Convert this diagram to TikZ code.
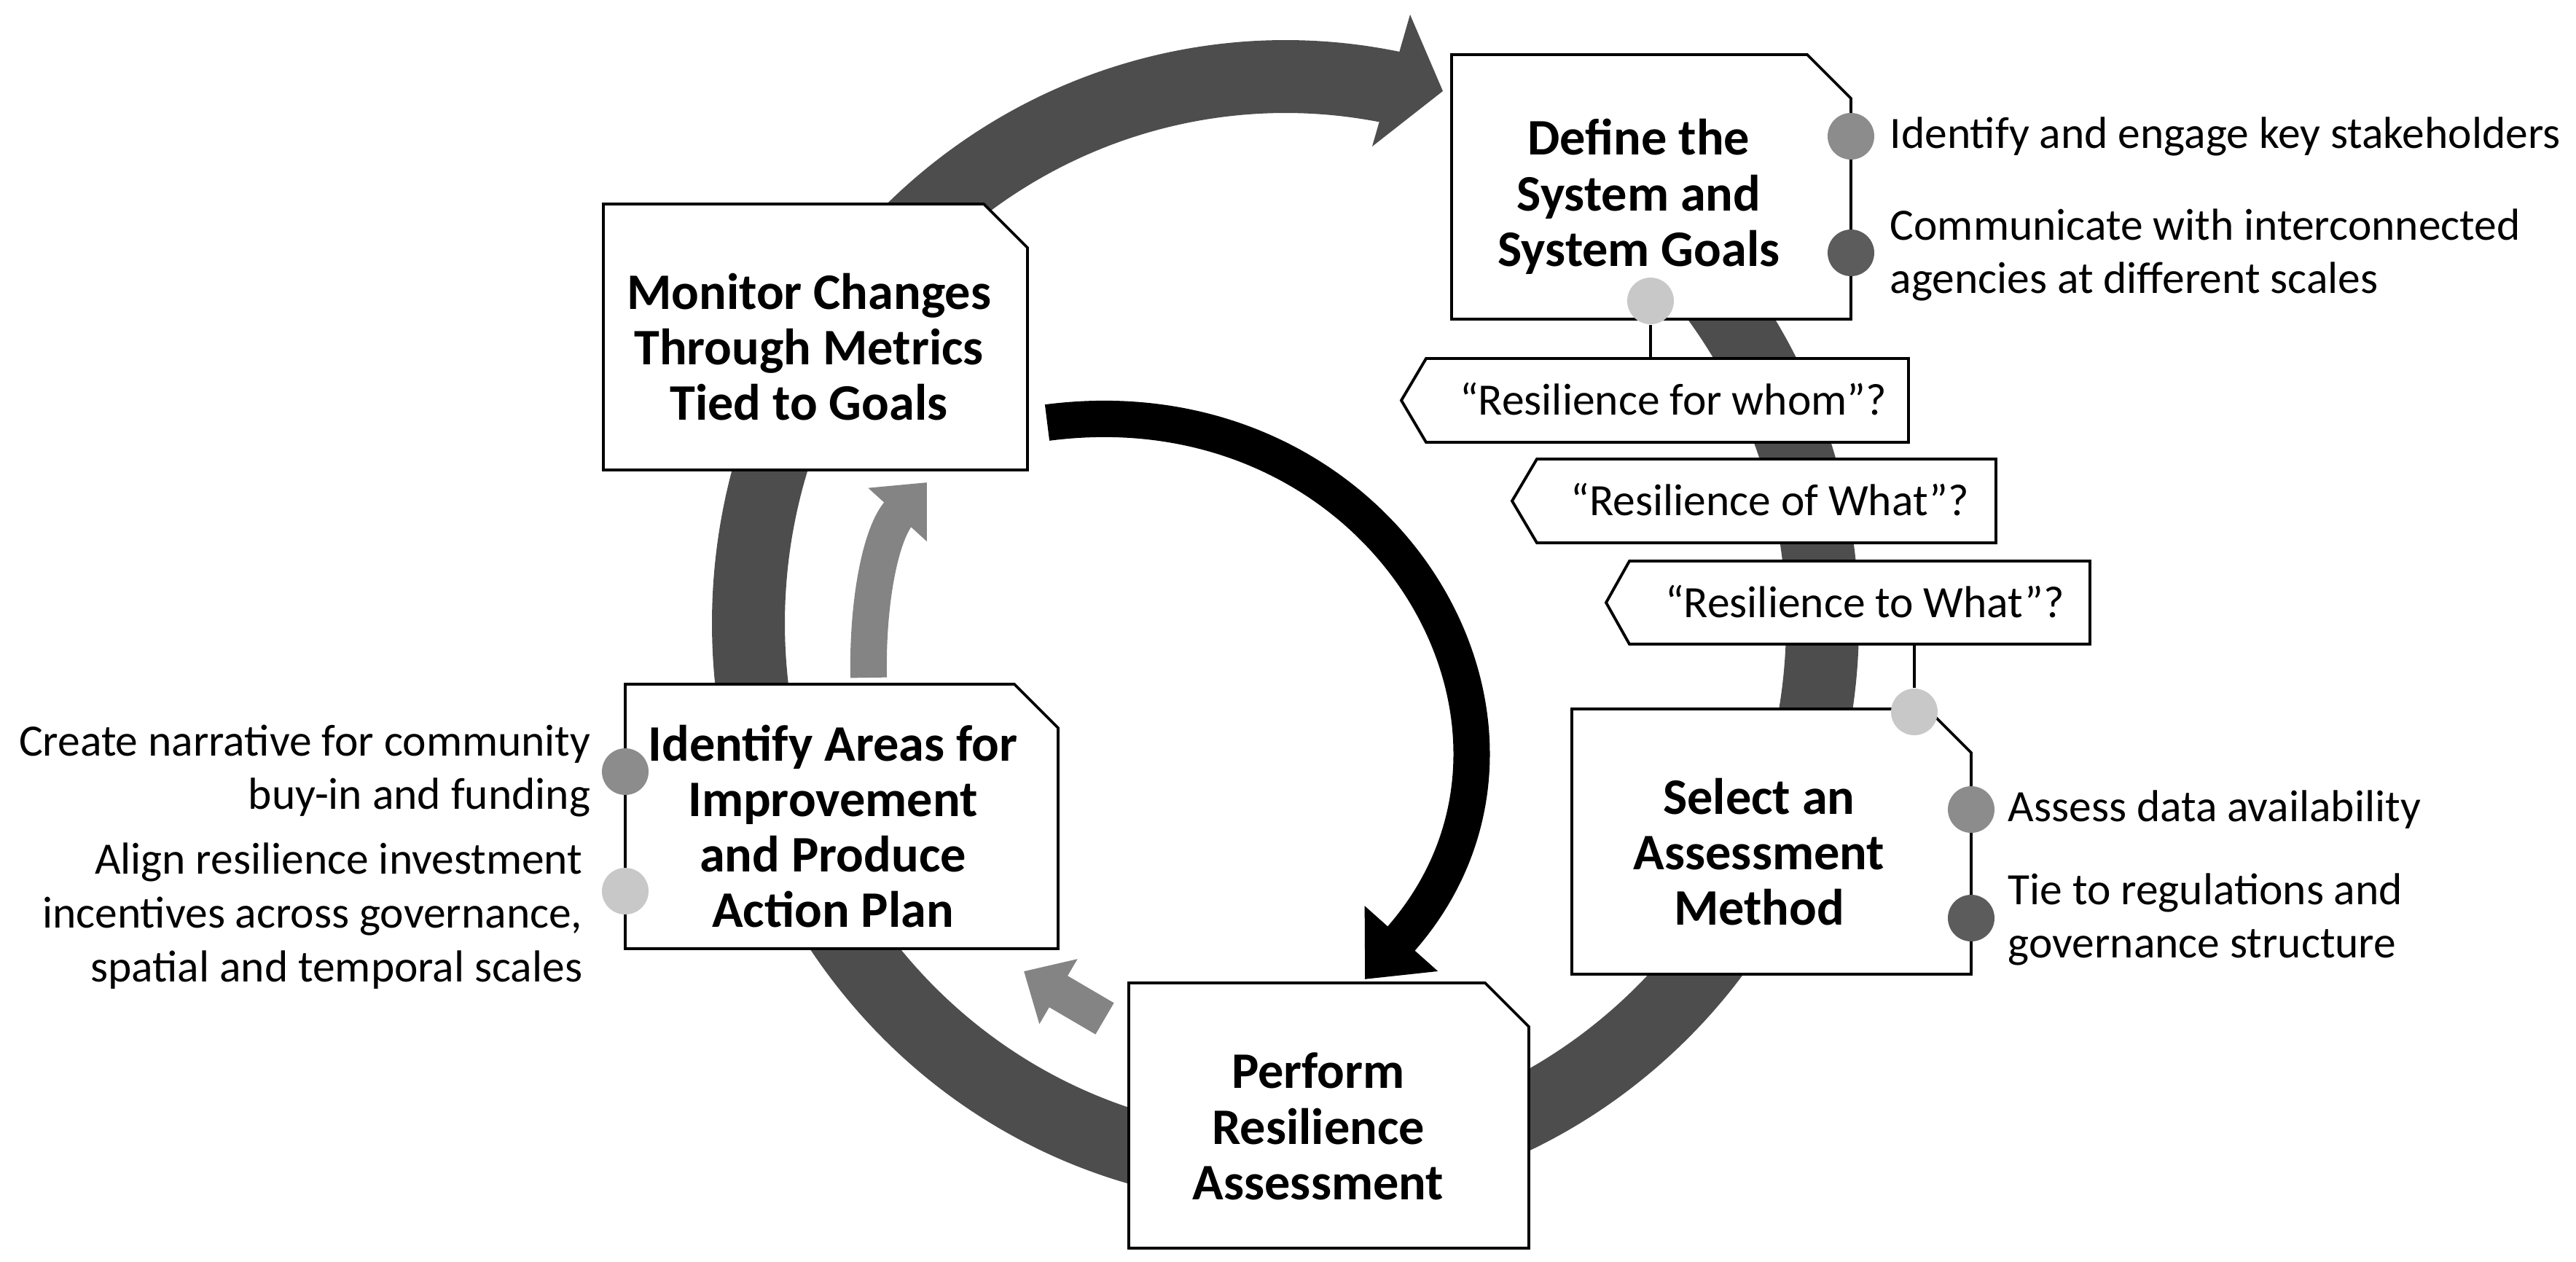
\documentclass[tikz,border=0pt]{standalone}
\usepackage{fontspec}
\setmainfont{Carlito}
\usetikzlibrary{arrows.meta}
\definecolor{ringc}{HTML}{4D4D4D}
\definecolor{lightarr}{HTML}{848484}
\definecolor{dotmed}{HTML}{8C8C8C}
\definecolor{dotdark}{HTML}{5C5C5C}
\definecolor{dotlight}{HTML}{C8C8C8}
\tikzset{
  boxline/.style={draw=black,line width=1.1pt,fill=white},
  title/.style={font=\fontsize{20}{21.7}\selectfont\bfseries,align=center,inner sep=0pt},
  note/.style={font=\fontsize{17.5}{21}\selectfont,inner sep=0pt},
  dot/.style={circle,minimum size=0.64cm,inner sep=0pt},
  link/.style={line width=0.9pt,black},
  fatarrow/.style={line width=0.5cm,-{Triangle[length=0.75cm,width=1.3cm]}}
}
\newcommand{\cutbox}[5]{% left top right bottom
  \draw[boxline] (#1,#2) -- ({#3-0.6},#2) -- (#3,{#2-0.6}) -- (#3,#4) -- (#1,#4) -- cycle;}
\newcommand{\qbox}[5]{% tip left right top bottom
  \draw[boxline] (#1,{(#4+#5)/2}) -- (#2,#4) -- (#3,#4) -- (#3,#5) -- (#2,#5) -- cycle;}
\begin{document}
\begin{tikzpicture}
\useasboundingbox (0,0) rectangle (35.35,-17.31);
% big ring
\draw[ringc,line width=1.0cm] (23.286,-3.729) arc[start angle=40,end angle=-281.5,x radius=7.37,y radius=7.5];
\coordinate (rhA) at (19.35,-0.20);
\coordinate (rhB) at (19.80,-1.25);
\coordinate (rhC) at (18.83,-2.01);
\fill[ringc] (rhA) -- (rhB) -- (rhC) -- cycle;
% black arrow
\coordinate (bkS) at (14.37,-5.80);
\coordinate (bkE) at (18.73,-13.44);
\draw[black,fatarrow] (bkS) .. controls (19.0,-5.2) and (21.8,-10.0) .. (bkE);
% light arrows
\coordinate (la1) at (11.92,-9.30);
\coordinate (la2) at (12.72,-6.62);
\draw[lightarr,line width=0.5cm,-{Triangle[length=0.6cm,width=1.05cm]}] (la1) .. controls (11.90,-8.2) and (12.1,-7.3) .. (la2);
\coordinate (lb1) at (15.16,-13.98);
\coordinate (lb2) at (14.05,-13.33);
\draw[lightarr,line width=0.5cm,-{Triangle[length=0.55cm,width=1.0cm]}] (lb1) -- (lb2);
% boxes
\cutbox{8.28}{-2.80}{14.10}{-6.45}{}
\node[title] (monitor) at (11.10,-4.76) {Monitor Changes\\Through Metrics\\Tied to Goals};
\cutbox{19.92}{-0.75}{25.40}{-4.38}{}
\node[title] (define) at (22.49,-2.70) {Define the\\System and\\System Goals};
\cutbox{8.58}{-9.39}{14.52}{-13.02}{}
\node[title] (identify) at (11.43,-11.34) {Identify Areas for\\Improvement\\and Produce\\Action Plan};
\cutbox{21.57}{-9.73}{27.05}{-13.37}{}
\node[title] (select) at (24.14,-11.69) {Select an\\Assessment\\Method};
\cutbox{15.49}{-13.49}{20.98}{-17.13}{}
\node[title] (perform) at (18.09,-15.46) {Perform\\Resilience\\Assessment};
% question boxes
\qbox{19.23}{19.57}{26.19}{-4.92}{-6.07}
\node[note] (rfw) at (22.96,-5.48) {“Resilience for whom”?};
\qbox{20.75}{21.09}{27.39}{-6.30}{-7.45}
\node[note] (row) at (24.29,-6.86) {“Resilience of What”?};
\qbox{22.04}{22.36}{28.68}{-7.70}{-8.84}
\node[note] (rtw) at (25.59,-8.26) {“Resilience to What”?};
% dots and links
\node[dot,fill=dotlight] (dDl) at (22.65,-4.13) {};
\coordinate (rfwTop) at (22.65,-4.92);
\draw[link] (dDl) -- (rfwTop);
\node[dot,fill=dotlight] (dSl) at (26.27,-9.77) {};
\coordinate (rtwBot) at (26.27,-8.84);
\draw[link] (rtwBot) -- (dSl);
\node[dot,fill=dotmed] (dD1) at (25.40,-1.87) {};
\node[dot,fill=dotdark] (dD2) at (25.40,-3.47) {};
\node[dot,fill=dotmed] (dS1) at (27.05,-11.11) {};
\node[dot,fill=dotdark] (dS2) at (27.05,-12.60) {};
\node[dot,fill=dotmed] (dI1) at (8.58,-10.59) {};
\node[dot,fill=dotlight] (dI2) at (8.58,-12.23) {};
% side notes
\node[note,anchor=west] (tD1) at (25.93,-1.87) {Identify and engage key stakeholders};
\node[note,anchor=west,align=left] (tD2) at (25.93,-3.50) {Communicate with interconnected\\agencies at different scales};
\node[note,anchor=west] (tS1) at (27.55,-11.11) {Assess data availability};
\node[note,anchor=west,align=left] (tS2) at (27.55,-12.62) {Tie to regulations and\\governance structure};
\node[note,anchor=east,align=right] (tI1) at (8.11,-10.58) {Create narrative for community\\buy-in and funding};
\node[note,anchor=east,align=right] (tI2) at (8.00,-12.57) {Align resilience investment\\incentives across governance,\\spatial and temporal scales};
\end{tikzpicture}
\end{document}
